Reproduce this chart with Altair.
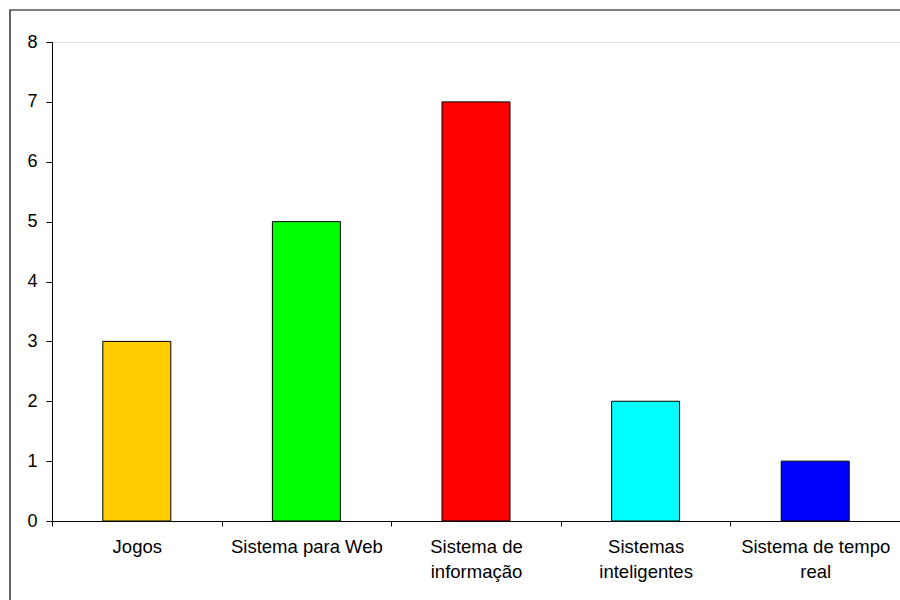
import altair as alt
import pandas as pd

categories = ["Jogos", "Sistema para Web", "Sistema de informação", "Sistemas inteligentes", "Sistema de tempo real"]
label_lines = [["Jogos"], ["Sistema para Web"], ["Sistema de", "informação"], ["Sistemas", "inteligentes"], ["Sistema de tempo", "real"]]
values = [3, 5, 7, 2, 1]
colors = ["#FFCC00", "#00FF00", "#FF0000", "#00FFFF", "#0000FF"]
y_ticks = [0, 1, 2, 3, 4, 5, 6, 7, 8]

df = pd.DataFrame({"cat": categories, "val": values})

# build labelExpr with line breaks
expr = "datum.label"
for name, lines in reversed(list(zip(categories, label_lines))):
    arr = "[" + ",".join("'" + l + "'" for l in lines) + "]"
    expr = f"datum.label == '{name}' ? {arr} : ({expr})"

FONT = "Liberation Sans"

bars = alt.Chart(df).mark_bar(width=68, stroke="black", strokeWidth=1).encode(
    x=alt.X("cat:N", sort=categories, title=None,
            scale=alt.Scale(paddingInner=0, paddingOuter=0),
            axis=alt.Axis(labelAngle=0, labelExpr=expr, tickBand="extent",
                          tickSize=5, labelPadding=11, labelLineHeight=25,
                          labelFont=FONT, labelFontSize=18.5, labelColor="black",
                          domainColor="black", tickColor="black", grid=False,
                          labelBaseline="top")),
    y=alt.Y("val:Q", title=None,
            scale=alt.Scale(domain=[0, 8], nice=False),
            axis=alt.Axis(values=y_ticks, tickSize=6, labelPadding=9,
                          labelFont=FONT, labelFontSize=18, labelColor="black",
                          domainColor="black", tickColor="black", grid=False)),
    color=alt.Color("cat:N", scale=alt.Scale(domain=categories, range=colors), legend=None),
)

frame = alt.Chart(pd.DataFrame({"a": [0]})).mark_rect(
    fillOpacity=0, stroke="black", strokeWidth=1.2
).encode(
    x=alt.value(-42), x2=alt.value(870),
    y=alt.value(-32), y2=alt.value(580),
)

chart = alt.layer(bars, frame).properties(
    width=848, height=479,
    autosize=alt.AutoSizeParams(type="none"),
    padding={"left": 52, "top": 42, "right": 0, "bottom": 79},
).configure_view(stroke="#909090", strokeWidth=1.5).configure(background="white")

chart.save("out.html", embed_options={"renderer": "svg", "actions": False})
